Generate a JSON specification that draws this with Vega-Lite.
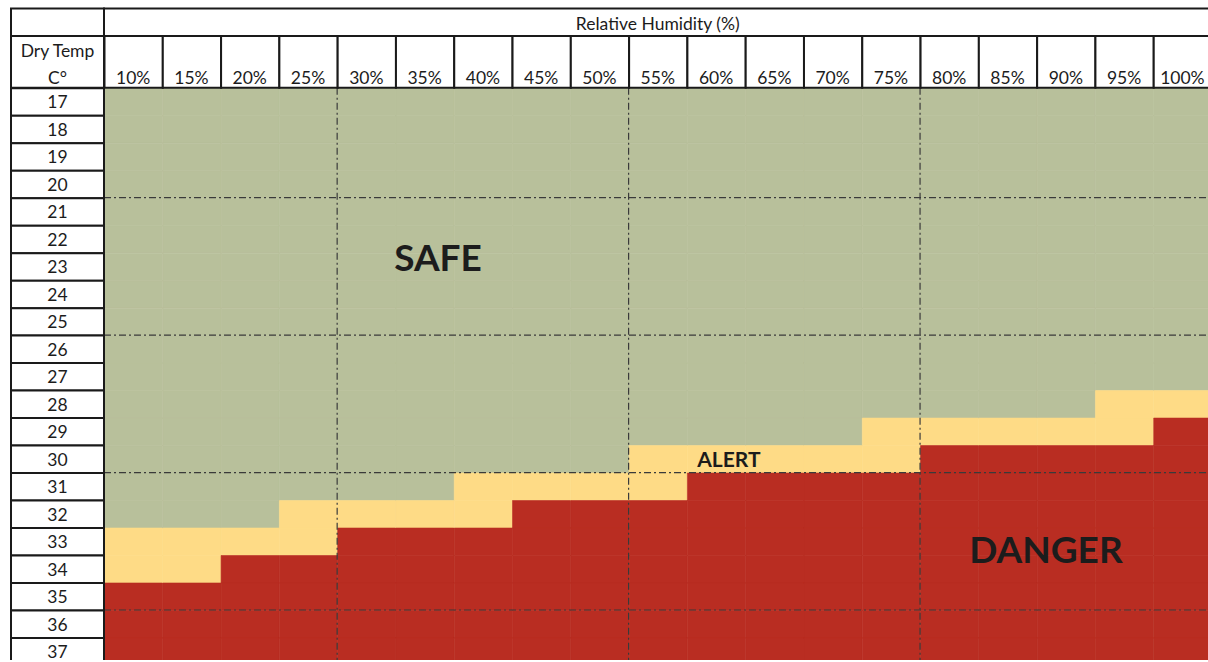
{
  "$schema": "https://vega.github.io/schema/vega-lite/v6.json",
  "width": 1208,
  "height": 662,
  "autosize": {"type": "fit", "contains": "padding"},
  "padding": 0,
  "background": "white",
  "config": {"view": {"stroke": null}, "text": {"font": "Lato", "color": "#1c1c1c"}},
  "datasets": {
    "cells": [
      {"rh":0.1,"t":17,"s":"S"},{"rh":0.1,"t":18,"s":"S"},{"rh":0.1,"t":19,"s":"S"},{"rh":0.1,"t":20,"s":"S"},{"rh":0.1,"t":21,"s":"S"},{"rh":0.1,"t":22,"s":"S"},{"rh":0.1,"t":23,"s":"S"},{"rh":0.1,"t":24,"s":"S"},{"rh":0.1,"t":25,"s":"S"},{"rh":0.1,"t":26,"s":"S"},{"rh":0.1,"t":27,"s":"S"},{"rh":0.1,"t":28,"s":"S"},{"rh":0.1,"t":29,"s":"S"},{"rh":0.1,"t":30,"s":"S"},{"rh":0.1,"t":31,"s":"S"},{"rh":0.1,"t":32,"s":"S"},{"rh":0.1,"t":33,"s":"A"},{"rh":0.1,"t":34,"s":"A"},{"rh":0.1,"t":35,"s":"D"},{"rh":0.1,"t":36,"s":"D"},{"rh":0.1,"t":37,"s":"D"},
      {"rh":0.15,"t":17,"s":"S"},{"rh":0.15,"t":18,"s":"S"},{"rh":0.15,"t":19,"s":"S"},{"rh":0.15,"t":20,"s":"S"},{"rh":0.15,"t":21,"s":"S"},{"rh":0.15,"t":22,"s":"S"},{"rh":0.15,"t":23,"s":"S"},{"rh":0.15,"t":24,"s":"S"},{"rh":0.15,"t":25,"s":"S"},{"rh":0.15,"t":26,"s":"S"},{"rh":0.15,"t":27,"s":"S"},{"rh":0.15,"t":28,"s":"S"},{"rh":0.15,"t":29,"s":"S"},{"rh":0.15,"t":30,"s":"S"},{"rh":0.15,"t":31,"s":"S"},{"rh":0.15,"t":32,"s":"S"},{"rh":0.15,"t":33,"s":"A"},{"rh":0.15,"t":34,"s":"A"},{"rh":0.15,"t":35,"s":"D"},{"rh":0.15,"t":36,"s":"D"},{"rh":0.15,"t":37,"s":"D"},
      {"rh":0.2,"t":17,"s":"S"},{"rh":0.2,"t":18,"s":"S"},{"rh":0.2,"t":19,"s":"S"},{"rh":0.2,"t":20,"s":"S"},{"rh":0.2,"t":21,"s":"S"},{"rh":0.2,"t":22,"s":"S"},{"rh":0.2,"t":23,"s":"S"},{"rh":0.2,"t":24,"s":"S"},{"rh":0.2,"t":25,"s":"S"},{"rh":0.2,"t":26,"s":"S"},{"rh":0.2,"t":27,"s":"S"},{"rh":0.2,"t":28,"s":"S"},{"rh":0.2,"t":29,"s":"S"},{"rh":0.2,"t":30,"s":"S"},{"rh":0.2,"t":31,"s":"S"},{"rh":0.2,"t":32,"s":"S"},{"rh":0.2,"t":33,"s":"A"},{"rh":0.2,"t":34,"s":"D"},{"rh":0.2,"t":35,"s":"D"},{"rh":0.2,"t":36,"s":"D"},{"rh":0.2,"t":37,"s":"D"},
      {"rh":0.25,"t":17,"s":"S"},{"rh":0.25,"t":18,"s":"S"},{"rh":0.25,"t":19,"s":"S"},{"rh":0.25,"t":20,"s":"S"},{"rh":0.25,"t":21,"s":"S"},{"rh":0.25,"t":22,"s":"S"},{"rh":0.25,"t":23,"s":"S"},{"rh":0.25,"t":24,"s":"S"},{"rh":0.25,"t":25,"s":"S"},{"rh":0.25,"t":26,"s":"S"},{"rh":0.25,"t":27,"s":"S"},{"rh":0.25,"t":28,"s":"S"},{"rh":0.25,"t":29,"s":"S"},{"rh":0.25,"t":30,"s":"S"},{"rh":0.25,"t":31,"s":"S"},{"rh":0.25,"t":32,"s":"A"},{"rh":0.25,"t":33,"s":"A"},{"rh":0.25,"t":34,"s":"D"},{"rh":0.25,"t":35,"s":"D"},{"rh":0.25,"t":36,"s":"D"},{"rh":0.25,"t":37,"s":"D"},
      {"rh":0.3,"t":17,"s":"S"},{"rh":0.3,"t":18,"s":"S"},{"rh":0.3,"t":19,"s":"S"},{"rh":0.3,"t":20,"s":"S"},{"rh":0.3,"t":21,"s":"S"},{"rh":0.3,"t":22,"s":"S"},{"rh":0.3,"t":23,"s":"S"},{"rh":0.3,"t":24,"s":"S"},{"rh":0.3,"t":25,"s":"S"},{"rh":0.3,"t":26,"s":"S"},{"rh":0.3,"t":27,"s":"S"},{"rh":0.3,"t":28,"s":"S"},{"rh":0.3,"t":29,"s":"S"},{"rh":0.3,"t":30,"s":"S"},{"rh":0.3,"t":31,"s":"S"},{"rh":0.3,"t":32,"s":"A"},{"rh":0.3,"t":33,"s":"D"},{"rh":0.3,"t":34,"s":"D"},{"rh":0.3,"t":35,"s":"D"},{"rh":0.3,"t":36,"s":"D"},{"rh":0.3,"t":37,"s":"D"},
      {"rh":0.35,"t":17,"s":"S"},{"rh":0.35,"t":18,"s":"S"},{"rh":0.35,"t":19,"s":"S"},{"rh":0.35,"t":20,"s":"S"},{"rh":0.35,"t":21,"s":"S"},{"rh":0.35,"t":22,"s":"S"},{"rh":0.35,"t":23,"s":"S"},{"rh":0.35,"t":24,"s":"S"},{"rh":0.35,"t":25,"s":"S"},{"rh":0.35,"t":26,"s":"S"},{"rh":0.35,"t":27,"s":"S"},{"rh":0.35,"t":28,"s":"S"},{"rh":0.35,"t":29,"s":"S"},{"rh":0.35,"t":30,"s":"S"},{"rh":0.35,"t":31,"s":"S"},{"rh":0.35,"t":32,"s":"A"},{"rh":0.35,"t":33,"s":"D"},{"rh":0.35,"t":34,"s":"D"},{"rh":0.35,"t":35,"s":"D"},{"rh":0.35,"t":36,"s":"D"},{"rh":0.35,"t":37,"s":"D"},
      {"rh":0.4,"t":17,"s":"S"},{"rh":0.4,"t":18,"s":"S"},{"rh":0.4,"t":19,"s":"S"},{"rh":0.4,"t":20,"s":"S"},{"rh":0.4,"t":21,"s":"S"},{"rh":0.4,"t":22,"s":"S"},{"rh":0.4,"t":23,"s":"S"},{"rh":0.4,"t":24,"s":"S"},{"rh":0.4,"t":25,"s":"S"},{"rh":0.4,"t":26,"s":"S"},{"rh":0.4,"t":27,"s":"S"},{"rh":0.4,"t":28,"s":"S"},{"rh":0.4,"t":29,"s":"S"},{"rh":0.4,"t":30,"s":"S"},{"rh":0.4,"t":31,"s":"A"},{"rh":0.4,"t":32,"s":"A"},{"rh":0.4,"t":33,"s":"D"},{"rh":0.4,"t":34,"s":"D"},{"rh":0.4,"t":35,"s":"D"},{"rh":0.4,"t":36,"s":"D"},{"rh":0.4,"t":37,"s":"D"},
      {"rh":0.45,"t":17,"s":"S"},{"rh":0.45,"t":18,"s":"S"},{"rh":0.45,"t":19,"s":"S"},{"rh":0.45,"t":20,"s":"S"},{"rh":0.45,"t":21,"s":"S"},{"rh":0.45,"t":22,"s":"S"},{"rh":0.45,"t":23,"s":"S"},{"rh":0.45,"t":24,"s":"S"},{"rh":0.45,"t":25,"s":"S"},{"rh":0.45,"t":26,"s":"S"},{"rh":0.45,"t":27,"s":"S"},{"rh":0.45,"t":28,"s":"S"},{"rh":0.45,"t":29,"s":"S"},{"rh":0.45,"t":30,"s":"S"},{"rh":0.45,"t":31,"s":"A"},{"rh":0.45,"t":32,"s":"D"},{"rh":0.45,"t":33,"s":"D"},{"rh":0.45,"t":34,"s":"D"},{"rh":0.45,"t":35,"s":"D"},{"rh":0.45,"t":36,"s":"D"},{"rh":0.45,"t":37,"s":"D"},
      {"rh":0.5,"t":17,"s":"S"},{"rh":0.5,"t":18,"s":"S"},{"rh":0.5,"t":19,"s":"S"},{"rh":0.5,"t":20,"s":"S"},{"rh":0.5,"t":21,"s":"S"},{"rh":0.5,"t":22,"s":"S"},{"rh":0.5,"t":23,"s":"S"},{"rh":0.5,"t":24,"s":"S"},{"rh":0.5,"t":25,"s":"S"},{"rh":0.5,"t":26,"s":"S"},{"rh":0.5,"t":27,"s":"S"},{"rh":0.5,"t":28,"s":"S"},{"rh":0.5,"t":29,"s":"S"},{"rh":0.5,"t":30,"s":"S"},{"rh":0.5,"t":31,"s":"A"},{"rh":0.5,"t":32,"s":"D"},{"rh":0.5,"t":33,"s":"D"},{"rh":0.5,"t":34,"s":"D"},{"rh":0.5,"t":35,"s":"D"},{"rh":0.5,"t":36,"s":"D"},{"rh":0.5,"t":37,"s":"D"},
      {"rh":0.55,"t":17,"s":"S"},{"rh":0.55,"t":18,"s":"S"},{"rh":0.55,"t":19,"s":"S"},{"rh":0.55,"t":20,"s":"S"},{"rh":0.55,"t":21,"s":"S"},{"rh":0.55,"t":22,"s":"S"},{"rh":0.55,"t":23,"s":"S"},{"rh":0.55,"t":24,"s":"S"},{"rh":0.55,"t":25,"s":"S"},{"rh":0.55,"t":26,"s":"S"},{"rh":0.55,"t":27,"s":"S"},{"rh":0.55,"t":28,"s":"S"},{"rh":0.55,"t":29,"s":"S"},{"rh":0.55,"t":30,"s":"A"},{"rh":0.55,"t":31,"s":"A"},{"rh":0.55,"t":32,"s":"D"},{"rh":0.55,"t":33,"s":"D"},{"rh":0.55,"t":34,"s":"D"},{"rh":0.55,"t":35,"s":"D"},{"rh":0.55,"t":36,"s":"D"},{"rh":0.55,"t":37,"s":"D"},
      {"rh":0.6,"t":17,"s":"S"},{"rh":0.6,"t":18,"s":"S"},{"rh":0.6,"t":19,"s":"S"},{"rh":0.6,"t":20,"s":"S"},{"rh":0.6,"t":21,"s":"S"},{"rh":0.6,"t":22,"s":"S"},{"rh":0.6,"t":23,"s":"S"},{"rh":0.6,"t":24,"s":"S"},{"rh":0.6,"t":25,"s":"S"},{"rh":0.6,"t":26,"s":"S"},{"rh":0.6,"t":27,"s":"S"},{"rh":0.6,"t":28,"s":"S"},{"rh":0.6,"t":29,"s":"S"},{"rh":0.6,"t":30,"s":"A"},{"rh":0.6,"t":31,"s":"D"},{"rh":0.6,"t":32,"s":"D"},{"rh":0.6,"t":33,"s":"D"},{"rh":0.6,"t":34,"s":"D"},{"rh":0.6,"t":35,"s":"D"},{"rh":0.6,"t":36,"s":"D"},{"rh":0.6,"t":37,"s":"D"},
      {"rh":0.65,"t":17,"s":"S"},{"rh":0.65,"t":18,"s":"S"},{"rh":0.65,"t":19,"s":"S"},{"rh":0.65,"t":20,"s":"S"},{"rh":0.65,"t":21,"s":"S"},{"rh":0.65,"t":22,"s":"S"},{"rh":0.65,"t":23,"s":"S"},{"rh":0.65,"t":24,"s":"S"},{"rh":0.65,"t":25,"s":"S"},{"rh":0.65,"t":26,"s":"S"},{"rh":0.65,"t":27,"s":"S"},{"rh":0.65,"t":28,"s":"S"},{"rh":0.65,"t":29,"s":"S"},{"rh":0.65,"t":30,"s":"A"},{"rh":0.65,"t":31,"s":"D"},{"rh":0.65,"t":32,"s":"D"},{"rh":0.65,"t":33,"s":"D"},{"rh":0.65,"t":34,"s":"D"},{"rh":0.65,"t":35,"s":"D"},{"rh":0.65,"t":36,"s":"D"},{"rh":0.65,"t":37,"s":"D"},
      {"rh":0.7,"t":17,"s":"S"},{"rh":0.7,"t":18,"s":"S"},{"rh":0.7,"t":19,"s":"S"},{"rh":0.7,"t":20,"s":"S"},{"rh":0.7,"t":21,"s":"S"},{"rh":0.7,"t":22,"s":"S"},{"rh":0.7,"t":23,"s":"S"},{"rh":0.7,"t":24,"s":"S"},{"rh":0.7,"t":25,"s":"S"},{"rh":0.7,"t":26,"s":"S"},{"rh":0.7,"t":27,"s":"S"},{"rh":0.7,"t":28,"s":"S"},{"rh":0.7,"t":29,"s":"S"},{"rh":0.7,"t":30,"s":"A"},{"rh":0.7,"t":31,"s":"D"},{"rh":0.7,"t":32,"s":"D"},{"rh":0.7,"t":33,"s":"D"},{"rh":0.7,"t":34,"s":"D"},{"rh":0.7,"t":35,"s":"D"},{"rh":0.7,"t":36,"s":"D"},{"rh":0.7,"t":37,"s":"D"},
      {"rh":0.75,"t":17,"s":"S"},{"rh":0.75,"t":18,"s":"S"},{"rh":0.75,"t":19,"s":"S"},{"rh":0.75,"t":20,"s":"S"},{"rh":0.75,"t":21,"s":"S"},{"rh":0.75,"t":22,"s":"S"},{"rh":0.75,"t":23,"s":"S"},{"rh":0.75,"t":24,"s":"S"},{"rh":0.75,"t":25,"s":"S"},{"rh":0.75,"t":26,"s":"S"},{"rh":0.75,"t":27,"s":"S"},{"rh":0.75,"t":28,"s":"S"},{"rh":0.75,"t":29,"s":"A"},{"rh":0.75,"t":30,"s":"A"},{"rh":0.75,"t":31,"s":"D"},{"rh":0.75,"t":32,"s":"D"},{"rh":0.75,"t":33,"s":"D"},{"rh":0.75,"t":34,"s":"D"},{"rh":0.75,"t":35,"s":"D"},{"rh":0.75,"t":36,"s":"D"},{"rh":0.75,"t":37,"s":"D"},
      {"rh":0.8,"t":17,"s":"S"},{"rh":0.8,"t":18,"s":"S"},{"rh":0.8,"t":19,"s":"S"},{"rh":0.8,"t":20,"s":"S"},{"rh":0.8,"t":21,"s":"S"},{"rh":0.8,"t":22,"s":"S"},{"rh":0.8,"t":23,"s":"S"},{"rh":0.8,"t":24,"s":"S"},{"rh":0.8,"t":25,"s":"S"},{"rh":0.8,"t":26,"s":"S"},{"rh":0.8,"t":27,"s":"S"},{"rh":0.8,"t":28,"s":"S"},{"rh":0.8,"t":29,"s":"A"},{"rh":0.8,"t":30,"s":"D"},{"rh":0.8,"t":31,"s":"D"},{"rh":0.8,"t":32,"s":"D"},{"rh":0.8,"t":33,"s":"D"},{"rh":0.8,"t":34,"s":"D"},{"rh":0.8,"t":35,"s":"D"},{"rh":0.8,"t":36,"s":"D"},{"rh":0.8,"t":37,"s":"D"},
      {"rh":0.85,"t":17,"s":"S"},{"rh":0.85,"t":18,"s":"S"},{"rh":0.85,"t":19,"s":"S"},{"rh":0.85,"t":20,"s":"S"},{"rh":0.85,"t":21,"s":"S"},{"rh":0.85,"t":22,"s":"S"},{"rh":0.85,"t":23,"s":"S"},{"rh":0.85,"t":24,"s":"S"},{"rh":0.85,"t":25,"s":"S"},{"rh":0.85,"t":26,"s":"S"},{"rh":0.85,"t":27,"s":"S"},{"rh":0.85,"t":28,"s":"S"},{"rh":0.85,"t":29,"s":"A"},{"rh":0.85,"t":30,"s":"D"},{"rh":0.85,"t":31,"s":"D"},{"rh":0.85,"t":32,"s":"D"},{"rh":0.85,"t":33,"s":"D"},{"rh":0.85,"t":34,"s":"D"},{"rh":0.85,"t":35,"s":"D"},{"rh":0.85,"t":36,"s":"D"},{"rh":0.85,"t":37,"s":"D"},
      {"rh":0.9,"t":17,"s":"S"},{"rh":0.9,"t":18,"s":"S"},{"rh":0.9,"t":19,"s":"S"},{"rh":0.9,"t":20,"s":"S"},{"rh":0.9,"t":21,"s":"S"},{"rh":0.9,"t":22,"s":"S"},{"rh":0.9,"t":23,"s":"S"},{"rh":0.9,"t":24,"s":"S"},{"rh":0.9,"t":25,"s":"S"},{"rh":0.9,"t":26,"s":"S"},{"rh":0.9,"t":27,"s":"S"},{"rh":0.9,"t":28,"s":"S"},{"rh":0.9,"t":29,"s":"A"},{"rh":0.9,"t":30,"s":"D"},{"rh":0.9,"t":31,"s":"D"},{"rh":0.9,"t":32,"s":"D"},{"rh":0.9,"t":33,"s":"D"},{"rh":0.9,"t":34,"s":"D"},{"rh":0.9,"t":35,"s":"D"},{"rh":0.9,"t":36,"s":"D"},{"rh":0.9,"t":37,"s":"D"},
      {"rh":0.95,"t":17,"s":"S"},{"rh":0.95,"t":18,"s":"S"},{"rh":0.95,"t":19,"s":"S"},{"rh":0.95,"t":20,"s":"S"},{"rh":0.95,"t":21,"s":"S"},{"rh":0.95,"t":22,"s":"S"},{"rh":0.95,"t":23,"s":"S"},{"rh":0.95,"t":24,"s":"S"},{"rh":0.95,"t":25,"s":"S"},{"rh":0.95,"t":26,"s":"S"},{"rh":0.95,"t":27,"s":"S"},{"rh":0.95,"t":28,"s":"A"},{"rh":0.95,"t":29,"s":"A"},{"rh":0.95,"t":30,"s":"D"},{"rh":0.95,"t":31,"s":"D"},{"rh":0.95,"t":32,"s":"D"},{"rh":0.95,"t":33,"s":"D"},{"rh":0.95,"t":34,"s":"D"},{"rh":0.95,"t":35,"s":"D"},{"rh":0.95,"t":36,"s":"D"},{"rh":0.95,"t":37,"s":"D"},
      {"rh":1,"t":17,"s":"S"},{"rh":1,"t":18,"s":"S"},{"rh":1,"t":19,"s":"S"},{"rh":1,"t":20,"s":"S"},{"rh":1,"t":21,"s":"S"},{"rh":1,"t":22,"s":"S"},{"rh":1,"t":23,"s":"S"},{"rh":1,"t":24,"s":"S"},{"rh":1,"t":25,"s":"S"},{"rh":1,"t":26,"s":"S"},{"rh":1,"t":27,"s":"S"},{"rh":1,"t":28,"s":"A"},{"rh":1,"t":29,"s":"D"},{"rh":1,"t":30,"s":"D"},{"rh":1,"t":31,"s":"D"},{"rh":1,"t":32,"s":"D"},{"rh":1,"t":33,"s":"D"},{"rh":1,"t":34,"s":"D"},{"rh":1,"t":35,"s":"D"},{"rh":1,"t":36,"s":"D"},{"rh":1,"t":37,"s":"D"}
    ]
  },
  "data": {"name": "cells"},
  "layer": [
    {
      "mark": {"type": "rect", "clip": true, "strokeWidth": 0.6},
      "encoding": {
        "x": {"field": "rh", "type": "quantitative", "bin": {"step": 0.05, "anchor": 0.075, "extent": [0.075, 1.025], "nice": false}, "axis": null,
              "scale": {"domain": [-0.01421, 1.02199], "nice": false, "zero": false}},
        "y": {"field": "t", "type": "quantitative", "bin": {"step": 1, "anchor": 16.5, "extent": [16.5, 37.5], "nice": false}, "axis": null,
              "scale": {"domain": [13.308, 37.32], "nice": false, "zero": false, "reverse": true}},
        "color": {"field": "s", "type": "nominal", "legend": null,
                  "scale": {"domain": ["S", "A", "D"], "range": ["#B8C09B", "#FEDB86", "#B92D22"]}},
        "stroke": {"field": "s", "type": "nominal", "legend": null,
                   "scale": {"domain": ["S", "A", "D"], "range": ["#B8C09B", "#FEDB86", "#B92D22"]}}
      }
    },
    {
      "data": {"values": [{}]},
      "mark": {"type": "rule", "color": "#3a3a3a", "strokeWidth": 1.2, "strokeDash": [7, 3, 2, 3], "clip": true},
      "encoding": {"x": {"datum": 0.275}, "y": {"datum": 16.5}, "y2": {"datum": 37.32}}
    },
    {
      "data": {"values": [{}]},
      "mark": {"type": "rule", "color": "#3a3a3a", "strokeWidth": 1.2, "strokeDash": [7, 3, 2, 3], "clip": true},
      "encoding": {"x": {"datum": 0.525}, "y": {"datum": 16.5}, "y2": {"datum": 37.32}}
    },
    {
      "data": {"values": [{}]},
      "mark": {"type": "rule", "color": "#3a3a3a", "strokeWidth": 1.2, "strokeDash": [7, 3, 2, 3], "clip": true},
      "encoding": {"x": {"datum": 0.775}, "y": {"datum": 16.5}, "y2": {"datum": 37.32}}
    },
    {
      "data": {"values": [{}]},
      "mark": {"type": "rule", "color": "#3a3a3a", "strokeWidth": 1.2, "strokeDash": [7, 3, 2, 3], "clip": true},
      "encoding": {"y": {"datum": 20.5}, "x": {"datum": 0.075}, "x2": {"datum": 1.02199}}
    },
    {
      "data": {"values": [{}]},
      "mark": {"type": "rule", "color": "#3a3a3a", "strokeWidth": 1.2, "strokeDash": [7, 3, 2, 3], "clip": true},
      "encoding": {"y": {"datum": 25.5}, "x": {"datum": 0.075}, "x2": {"datum": 1.02199}}
    },
    {
      "data": {"values": [{}]},
      "mark": {"type": "rule", "color": "#3a3a3a", "strokeWidth": 1.2, "strokeDash": [7, 3, 2, 3], "clip": true},
      "encoding": {"y": {"datum": 30.5}, "x": {"datum": 0.075}, "x2": {"datum": 1.02199}}
    },
    {
      "data": {"values": [{}]},
      "mark": {"type": "rule", "color": "#3a3a3a", "strokeWidth": 1.2, "strokeDash": [7, 3, 2, 3], "clip": true},
      "encoding": {"y": {"datum": 35.5}, "x": {"datum": 0.075}, "x2": {"datum": 1.02199}}
    },
    {
      "transform": [{"filter": {"field": "rh", "equal": 0.1}}],
      "mark": {"type": "rect", "fill": "white", "stroke": "#1a1a1a", "strokeWidth": 2, "clip": true},
      "encoding": {
        "x": {"datum": -0.00477}, "x2": {"datum": 0.075},
        "y": {"field": "t", "type": "quantitative", "bin": {"step": 1, "anchor": 16.5, "extent": [16.5, 37.5], "nice": false}}
      }
    },
    {
      "transform": [{"filter": {"field": "t", "equal": 17}}],
      "mark": {"type": "rect", "fill": "white", "stroke": "#1a1a1a", "strokeWidth": 2, "clip": true},
      "encoding": {
        "x": {"field": "rh", "type": "quantitative", "bin": {"step": 0.05, "anchor": 0.075, "extent": [0.075, 1.025], "nice": false}},
        "y": {"datum": 14.614}, "y2": {"datum": 16.5}
      }
    },
    {
      "data": {"values": [{}]},
      "mark": {"type": "rect", "fill": "white", "stroke": "#1a1a1a", "strokeWidth": 2, "clip": true},
      "encoding": {"x": {"datum": 0.075}, "x2": {"datum": 1.03}, "y": {"datum": 13.616}, "y2": {"datum": 14.614}}
    },
    {
      "data": {"values": [{}]},
      "mark": {"type": "rect", "fill": "white", "stroke": "#1a1a1a", "strokeWidth": 2, "clip": true},
      "encoding": {"x": {"datum": -0.00477}, "x2": {"datum": 0.075}, "y": {"datum": 13.616}, "y2": {"datum": 14.614}}
    },
    {
      "data": {"values": [{}]},
      "mark": {"type": "rect", "fill": "white", "stroke": "#1a1a1a", "strokeWidth": 2, "clip": true},
      "encoding": {"x": {"datum": -0.00477}, "x2": {"datum": 0.075}, "y": {"datum": 14.614}, "y2": {"datum": 16.5}}
    },
    {
      "data": {"values": [{}]},
      "mark": {"type": "text", "text": "Relative Humidity (%)", "fontSize": 17.5, "align": "center", "baseline": "middle", "dy": 2},
      "encoding": {"x": {"datum": 0.55}, "y": {"datum": 14.16}}
    },
    {
      "data": {"values": [{}]},
      "mark": {"type": "text", "text": "Dry Temp", "fontSize": 17.5, "align": "center", "baseline": "middle", "dy": 1},
      "encoding": {"x": {"datum": 0.0351}, "y": {"datum": 15.158}}
    },
    {
      "data": {"values": [{}]},
      "mark": {"type": "text", "text": "C°", "fontSize": 17.5, "align": "center", "baseline": "middle", "dy": 1},
      "encoding": {"x": {"datum": 0.0351}, "y": {"datum": 16.137}}
    },
    {
      "transform": [{"filter": {"field": "t", "equal": 17}}],
      "mark": {"type": "text", "fontSize": 17.5, "align": "center", "baseline": "middle", "dy": 1},
      "encoding": {
        "x": {"field": "rh", "type": "quantitative"},
        "y": {"datum": 16.137},
        "text": {"field": "rh", "type": "quantitative", "format": ".0%"}
      }
    },
    {
      "transform": [{"filter": {"field": "rh", "equal": 0.1}}],
      "mark": {"type": "text", "fontSize": 17.5, "align": "center", "baseline": "middle", "dy": 2},
      "encoding": {
        "x": {"datum": 0.0351},
        "y": {"field": "t", "type": "quantitative"},
        "text": {"field": "t", "type": "quantitative", "format": "d"}
      }
    },
    {
      "data": {"values": [{}]},
      "mark": {"type": "text", "text": "SAFE", "fontSize": 37, "fontWeight": "bold", "align": "center", "baseline": "middle"},
      "encoding": {"x": {"datum": 0.3615}, "y": {"datum": 22.77}}
    },
    {
      "data": {"values": [{}]},
      "mark": {"type": "text", "text": "ALERT", "fontSize": 21, "fontWeight": "bold", "align": "center", "baseline": "middle"},
      "encoding": {"x": {"datum": 0.611}, "y": {"datum": 30.07}}
    },
    {
      "data": {"values": [{}]},
      "mark": {"type": "text", "text": "DANGER", "fontSize": 37, "fontWeight": "bold", "align": "center", "baseline": "middle"},
      "encoding": {"x": {"datum": 0.883}, "y": {"datum": 33.39}}
    }
  ]
}
